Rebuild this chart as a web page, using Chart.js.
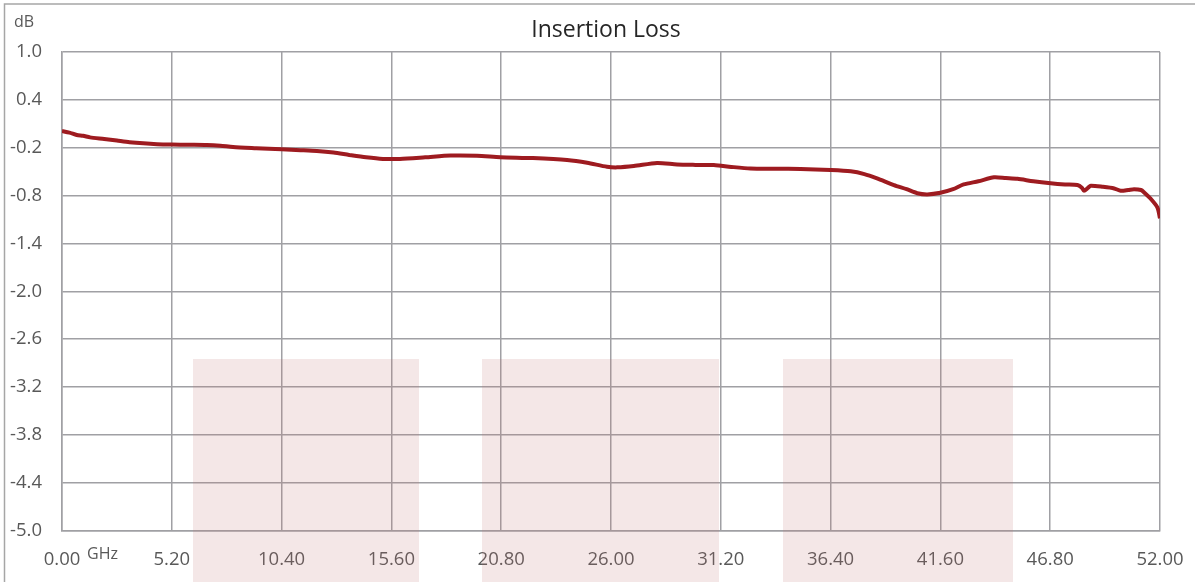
<!DOCTYPE html>
<html>
<head>
<meta charset="utf-8">
<script src="https://cdn.jsdelivr.net/npm/chart.js@4.4.1/dist/chart.umd.min.js"></script>
<style>
  html, body { margin: 0; padding: 0; background: #ffffff; }
  #wrap { position: relative; width: 1195px; height: 582px; }
</style>
</head>
<body>
<div id="wrap"><canvas id="c" width="1195" height="582"></canvas></div>
<script>
// ---- Data ----
const chartTitle = "Insertion Loss";
const yUnit = "dB";
const xUnit = "GHz";
const freqGHz = [0, 0.35, 0.7, 1.0, 1.33, 2.0, 2.6, 3.2, 3.85, 4.5, 5.2, 6.0, 6.86, 7.5, 8.1, 9.2, 10.4, 11.3, 12.07, 12.86, 13.6, 14.4, 15.2, 16.0, 17.2, 18.4, 19.65, 20.76, 22.3, 23.92, 24.87, 25.81, 26.29, 27.08, 28.18, 29.13, 30.0, 30.87, 31.7, 32.6, 33.8, 34.98, 36.4, 37.35, 38.0, 38.6, 39.4, 40.0, 40.5, 40.98, 41.6, 42.2, 42.7, 43.4, 44.14, 44.7, 45.25, 46.0, 46.82, 47.5, 48.09, 48.3, 48.4, 48.6, 48.72, 49.3, 49.83, 50.14, 50.5, 50.77, 51.1, 51.25, 51.56, 51.88, 52.0];
const lossDb = [0.01, -0.01, -0.04, -0.05, -0.07, -0.09, -0.11, -0.13, -0.145, -0.155, -0.16, -0.163, -0.166, -0.175, -0.19, -0.205, -0.22, -0.23, -0.24, -0.26, -0.29, -0.32, -0.34, -0.34, -0.32, -0.298, -0.30, -0.318, -0.33, -0.354, -0.388, -0.438, -0.446, -0.43, -0.39, -0.41, -0.415, -0.417, -0.44, -0.46, -0.463, -0.467, -0.48, -0.496, -0.53, -0.584, -0.668, -0.72, -0.77, -0.785, -0.765, -0.72, -0.66, -0.62, -0.57, -0.58, -0.59, -0.62, -0.645, -0.66, -0.668, -0.70, -0.74, -0.70, -0.676, -0.69, -0.71, -0.74, -0.73, -0.72, -0.73, -0.76, -0.84, -0.95, -1.085];
const xTickValues = [0, 5.2, 10.4, 15.6, 20.8, 26.0, 31.2, 36.4, 41.6, 46.8, 52.0];
const yTickValues = [-5.0, -4.4, -3.8, -3.2, -2.6, -2.0, -1.4, -0.8, -0.2, 0.4, 1.0];

const points = freqGHz.map((f, i) => ({ x: f, y: lossDb[i] }));

const FONT = "'Open Sans', 'DejaVu Sans', sans-serif";
const GRID = '#a0a0a4';
const TICK = '#595959';

// decorative frame, title, unit labels and watermark blocks
const decorPlugin = {
  id: 'decor',
  beforeDraw(chart) {
    const ctx = chart.ctx;
    ctx.save();
    ctx.strokeStyle = '#a6a6a6';
    ctx.lineWidth = 1.5;
    ctx.beginPath();
    ctx.moveTo(4.5, 582);
    ctx.lineTo(4.5, 4);
    ctx.lineTo(1195, 4);
    ctx.stroke();
    ctx.restore();
  },
  afterDraw(chart) {
    const ctx = chart.ctx;
    ctx.save();
    // watermark blocks
    ctx.fillStyle = 'rgba(190,110,110,0.17)';
    [[193, 419], [482, 719], [783, 1013]].forEach(([a, b]) => {
      ctx.fillRect(a, 359, b - a, 582 - 359);
    });
    // title
    ctx.fillStyle = '#262626';
    ctx.font = "23px " + FONT;
    ctx.textAlign = 'center';
    ctx.textBaseline = 'middle';
    ctx.fillText(chartTitle, 606, 30);
    // unit labels
    ctx.fillStyle = TICK;
    ctx.font = "16px " + FONT;
    ctx.textAlign = 'left';
    ctx.fillText(yUnit, 14, 22);
    ctx.fillText(xUnit, 87, 554);
    ctx.restore();
  }
};

new Chart(document.getElementById('c'), {
  type: 'line',
  data: {
    datasets: [{
      data: points,
      borderColor: '#9e1b20',
      borderWidth: 4,
      pointRadius: 0,
      tension: 0.25,
      fill: false
    }]
  },
  options: {
    responsive: false,
    animation: false,
    events: [],
    layout: { padding: { left: 0, right: 35, top: 52, bottom: 0 } },
    plugins: {
      legend: { display: false },
      title: { display: false },
      tooltip: { enabled: false }
    },
    scales: {
      x: {
        type: 'linear',
        min: 0, max: 52,
        afterBuildTicks: s => { s.ticks = xTickValues.map(v => ({ value: v })); },
        afterFit: s => { s.height = 51.3; s.paddingLeft = 0; s.paddingRight = 0; },
        grid: { color: GRID, lineWidth: 1.5, drawTicks: false },
        border: { color: GRID, width: 1.5 },
        ticks: {
          padding: 18,
          color: TICK,
          font: { family: FONT, size: 18.5 },
          maxRotation: 0,
          autoSkip: false,
          callback: v => Number(v).toFixed(2)
        }
      },
      y: {
        type: 'linear',
        min: -5, max: 1,
        afterBuildTicks: s => { s.ticks = yTickValues.map(v => ({ value: v })); },
        afterFit: s => { s.width = 62; },
        grid: { color: GRID, lineWidth: 1.5, drawTicks: false },
        border: { color: GRID, width: 1.5 },
        ticks: {
          padding: 20,
          color: TICK,
          font: { family: FONT, size: 18.5 },
          autoSkip: false,
          callback: v => Number(v).toFixed(1)
        }
      }
    }
  },
  plugins: [decorPlugin]
});
</script>
</body>
</html>
